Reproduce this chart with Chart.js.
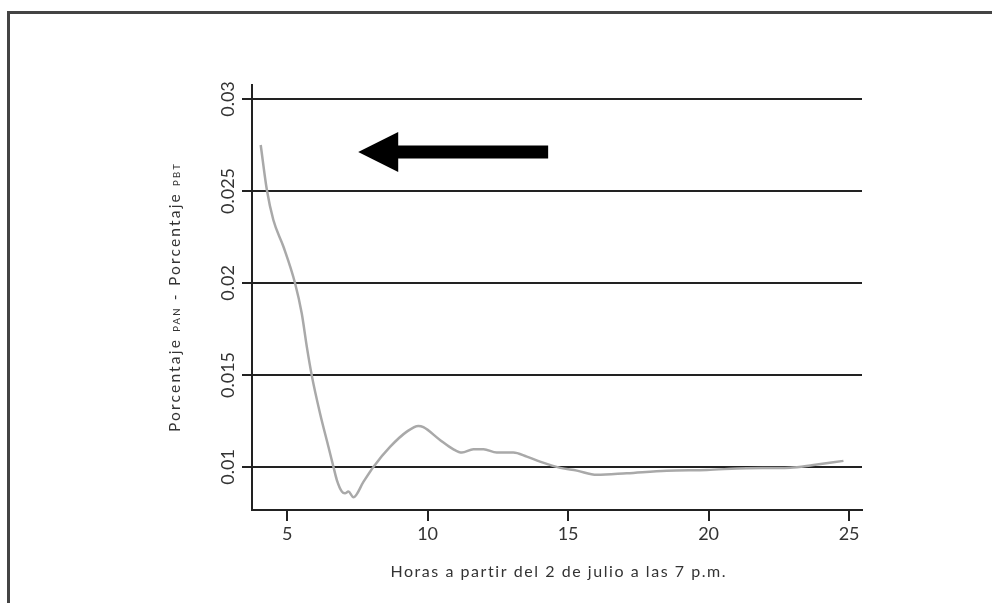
<!DOCTYPE html>
<html>
<head>
<meta charset="utf-8">
<script src="https://cdn.jsdelivr.net/npm/chart.js@4.4.1/dist/chart.umd.min.js"></script>
<style>
html,body{margin:0;padding:0;background:#fff;}
#wrap{position:relative;width:992px;height:603px;}
</style>
</head>
<body>
<div id="wrap"><canvas id="c" width="992" height="603"></canvas></div>
<script>
// ---- data ----
const hours = [4.06,4.28,4.51,4.87,5.28,5.52,5.70,5.88,6.17,6.47,6.65,6.77,6.95,7.06,7.18,7.36,7.72,8.07,8.67,9.26,9.67,9.85,10.44,10.92,11.22,11.63,11.99,12.46,13.05,13.53,14.0,14.72,15.31,16.02,17.09,18.51,19.94,21.36,22.90,23.73,24.8];
const diffs = [0.0275,0.02505,0.02342,0.02197,0.0200,0.01835,0.01654,0.01495,0.01292,0.0111,0.0100,0.00929,0.00866,0.00857,0.00866,0.00835,0.0092,0.0100,0.0111,0.01192,0.01223,0.01216,0.01147,0.01096,0.01078,0.01096,0.01096,0.01078,0.01078,0.01056,0.01029,0.00995,0.0098,0.00957,0.00966,0.0098,0.00984,0.00993,0.00996,0.01011,0.01033];
const xTickValues = [5,10,15,20,25];
const yTickValues = [0.01,0.015,0.02,0.025,0.03];
const yTickLabels = ['0.01','0.015','0.02','0.025','0.03'];
const xTitle = 'Horas a partir del 2 de julio a las 7 p.m.';
const yTitleParts = [['Porcentaje ', false], ['PAN', true], [' - Porcentaje ', false], ['PBT', true]];
const arrowFromX = [14.29];
const arrowToX = [7.53];
const arrowY = [0.02712];

const points = hours.map((h,i)=>({x:h, y:diffs[i]}));
const textColor = '#333';
const axisColor = '#222';
const FONT = 'Lato, "Open Sans", sans-serif';

function fitSpacing(ctx, parts, fonts, target){
  ctx.letterSpacing = '0px';
  let w = 0, n = 0;
  parts.forEach((p,i)=>{ctx.font = fonts[i]; w += ctx.measureText(p).width; n += p.length;});
  return Math.max(0, (target - w)/(n));
}

const decor = {
  id:'decor',
  beforeDraw(chart){
    const ctx = chart.ctx;
    ctx.save();
    ctx.fillStyle='#fff';
    ctx.fillRect(0,0,chart.width,chart.height);
    ctx.strokeStyle='#444';
    ctx.lineWidth=3;
    ctx.beginPath();
    ctx.moveTo(8.5, chart.height+5);
    ctx.lineTo(8.5, 12.5);
    ctx.lineTo(chart.width+5, 12.5);
    ctx.stroke();
    ctx.restore();
  },
  afterDraw(chart){
    const ctx = chart.ctx;
    const xs = chart.scales.x, ys = chart.scales.y;
    ctx.save();
    // y tick labels rotated
    ctx.fillStyle = textColor;
    ctx.font = '18px ' + FONT;
    ctx.textAlign='center';
    ctx.textBaseline='middle';
    yTickValues.forEach((v,i)=>{
      const py = ys.getPixelForValue(v);
      ctx.save();
      ctx.translate(228, py);
      ctx.rotate(-Math.PI/2);
      ctx.fillText(yTickLabels[i],0,0);
      ctx.restore();
    });
    // y title with subscripts
    const mainF = '15.5px ' + FONT, subF = '9.5px ' + FONT;
    const fonts = yTitleParts.map(p=>p[1]?subF:mainF);
    const sp = fitSpacing(ctx, yTitleParts.map(p=>p[0]), fonts, 270);
    ctx.letterSpacing = sp + 'px';
    let total = 0;
    const widths = yTitleParts.map(([t,s],i)=>{ctx.font = fonts[i]; const w = ctx.measureText(t).width; total+=w; return w;});
    ctx.save();
    ctx.translate(174, 297);
    ctx.rotate(-Math.PI/2);
    ctx.textAlign='left';
    ctx.textBaseline='alphabetic';
    let xx = -total/2;
    yTitleParts.forEach(([t,s],i)=>{
      ctx.font = fonts[i];
      ctx.fillText(t, xx, 6);
      xx += widths[i];
    });
    ctx.restore();
    // x title
    const xF = '16px ' + FONT;
    const sp2 = fitSpacing(ctx, [xTitle], [xF], 337);
    ctx.font = xF;
    ctx.letterSpacing = sp2 + 'px';
    ctx.textAlign='center';
    ctx.textBaseline='middle';
    ctx.fillText(xTitle, 558 + sp2/2, 572);
    ctx.letterSpacing = '0px';
    // arrow
    const x0 = xs.getPixelForValue(arrowFromX[0]);
    const x1 = xs.getPixelForValue(arrowToX[0]);
    const ay = ys.getPixelForValue(arrowY[0]);
    const headL = 40, headH = 20, shaftH = 6.5;
    ctx.fillStyle='#000';
    ctx.beginPath();
    ctx.moveTo(x1, ay);
    ctx.lineTo(x1+headL, ay-headH);
    ctx.lineTo(x1+headL, ay-shaftH);
    ctx.lineTo(x0, ay-shaftH);
    ctx.lineTo(x0, ay+shaftH);
    ctx.lineTo(x1+headL, ay+shaftH);
    ctx.lineTo(x1+headL, ay+headH);
    ctx.closePath();
    ctx.fill();
    ctx.restore();
  }
};

new Chart(document.getElementById('c'), {
  type:'line',
  data:{datasets:[{data:points, borderColor:'#a9a9a9', borderWidth:2.5, pointRadius:0, tension:0.4, cubicInterpolationMode:'monotone', fill:false}]},
  options:{
    responsive:false,
    animation:false,
    events:[],
    layout:{padding:{left:0,top:85,right:130,bottom:0}},
    plugins:{legend:{display:false}, tooltip:{enabled:false}},
    scales:{
      x:{
        type:'linear', min:3.75, max:25.46,
        afterBuildTicks:s=>{s.ticks = xTickValues.map(v=>({value:v}));},
        afterFit:s=>{s.height = 93;},
        grid:{display:true, drawOnChartArea:false, drawTicks:true, tickLength:11, color:axisColor, lineWidth:2},
        border:{display:true, color:axisColor, width:2},
        ticks:{color:textColor, font:{family:FONT, size:18}, padding:2, maxRotation:0}
      },
      y:{
        type:'linear', min:0.00766, max:0.03076,
        afterBuildTicks:s=>{s.ticks = yTickValues.map(v=>({value:v}));},
        afterFit:s=>{s.width = 252;},
        grid:{display:true, drawOnChartArea:true, drawTicks:true, tickLength:10, color:axisColor, lineWidth:2},
        border:{display:true, color:axisColor, width:2},
        ticks:{display:false}
      }
    }
  },
  plugins:[decor]
});
</script>
</body>
</html>
